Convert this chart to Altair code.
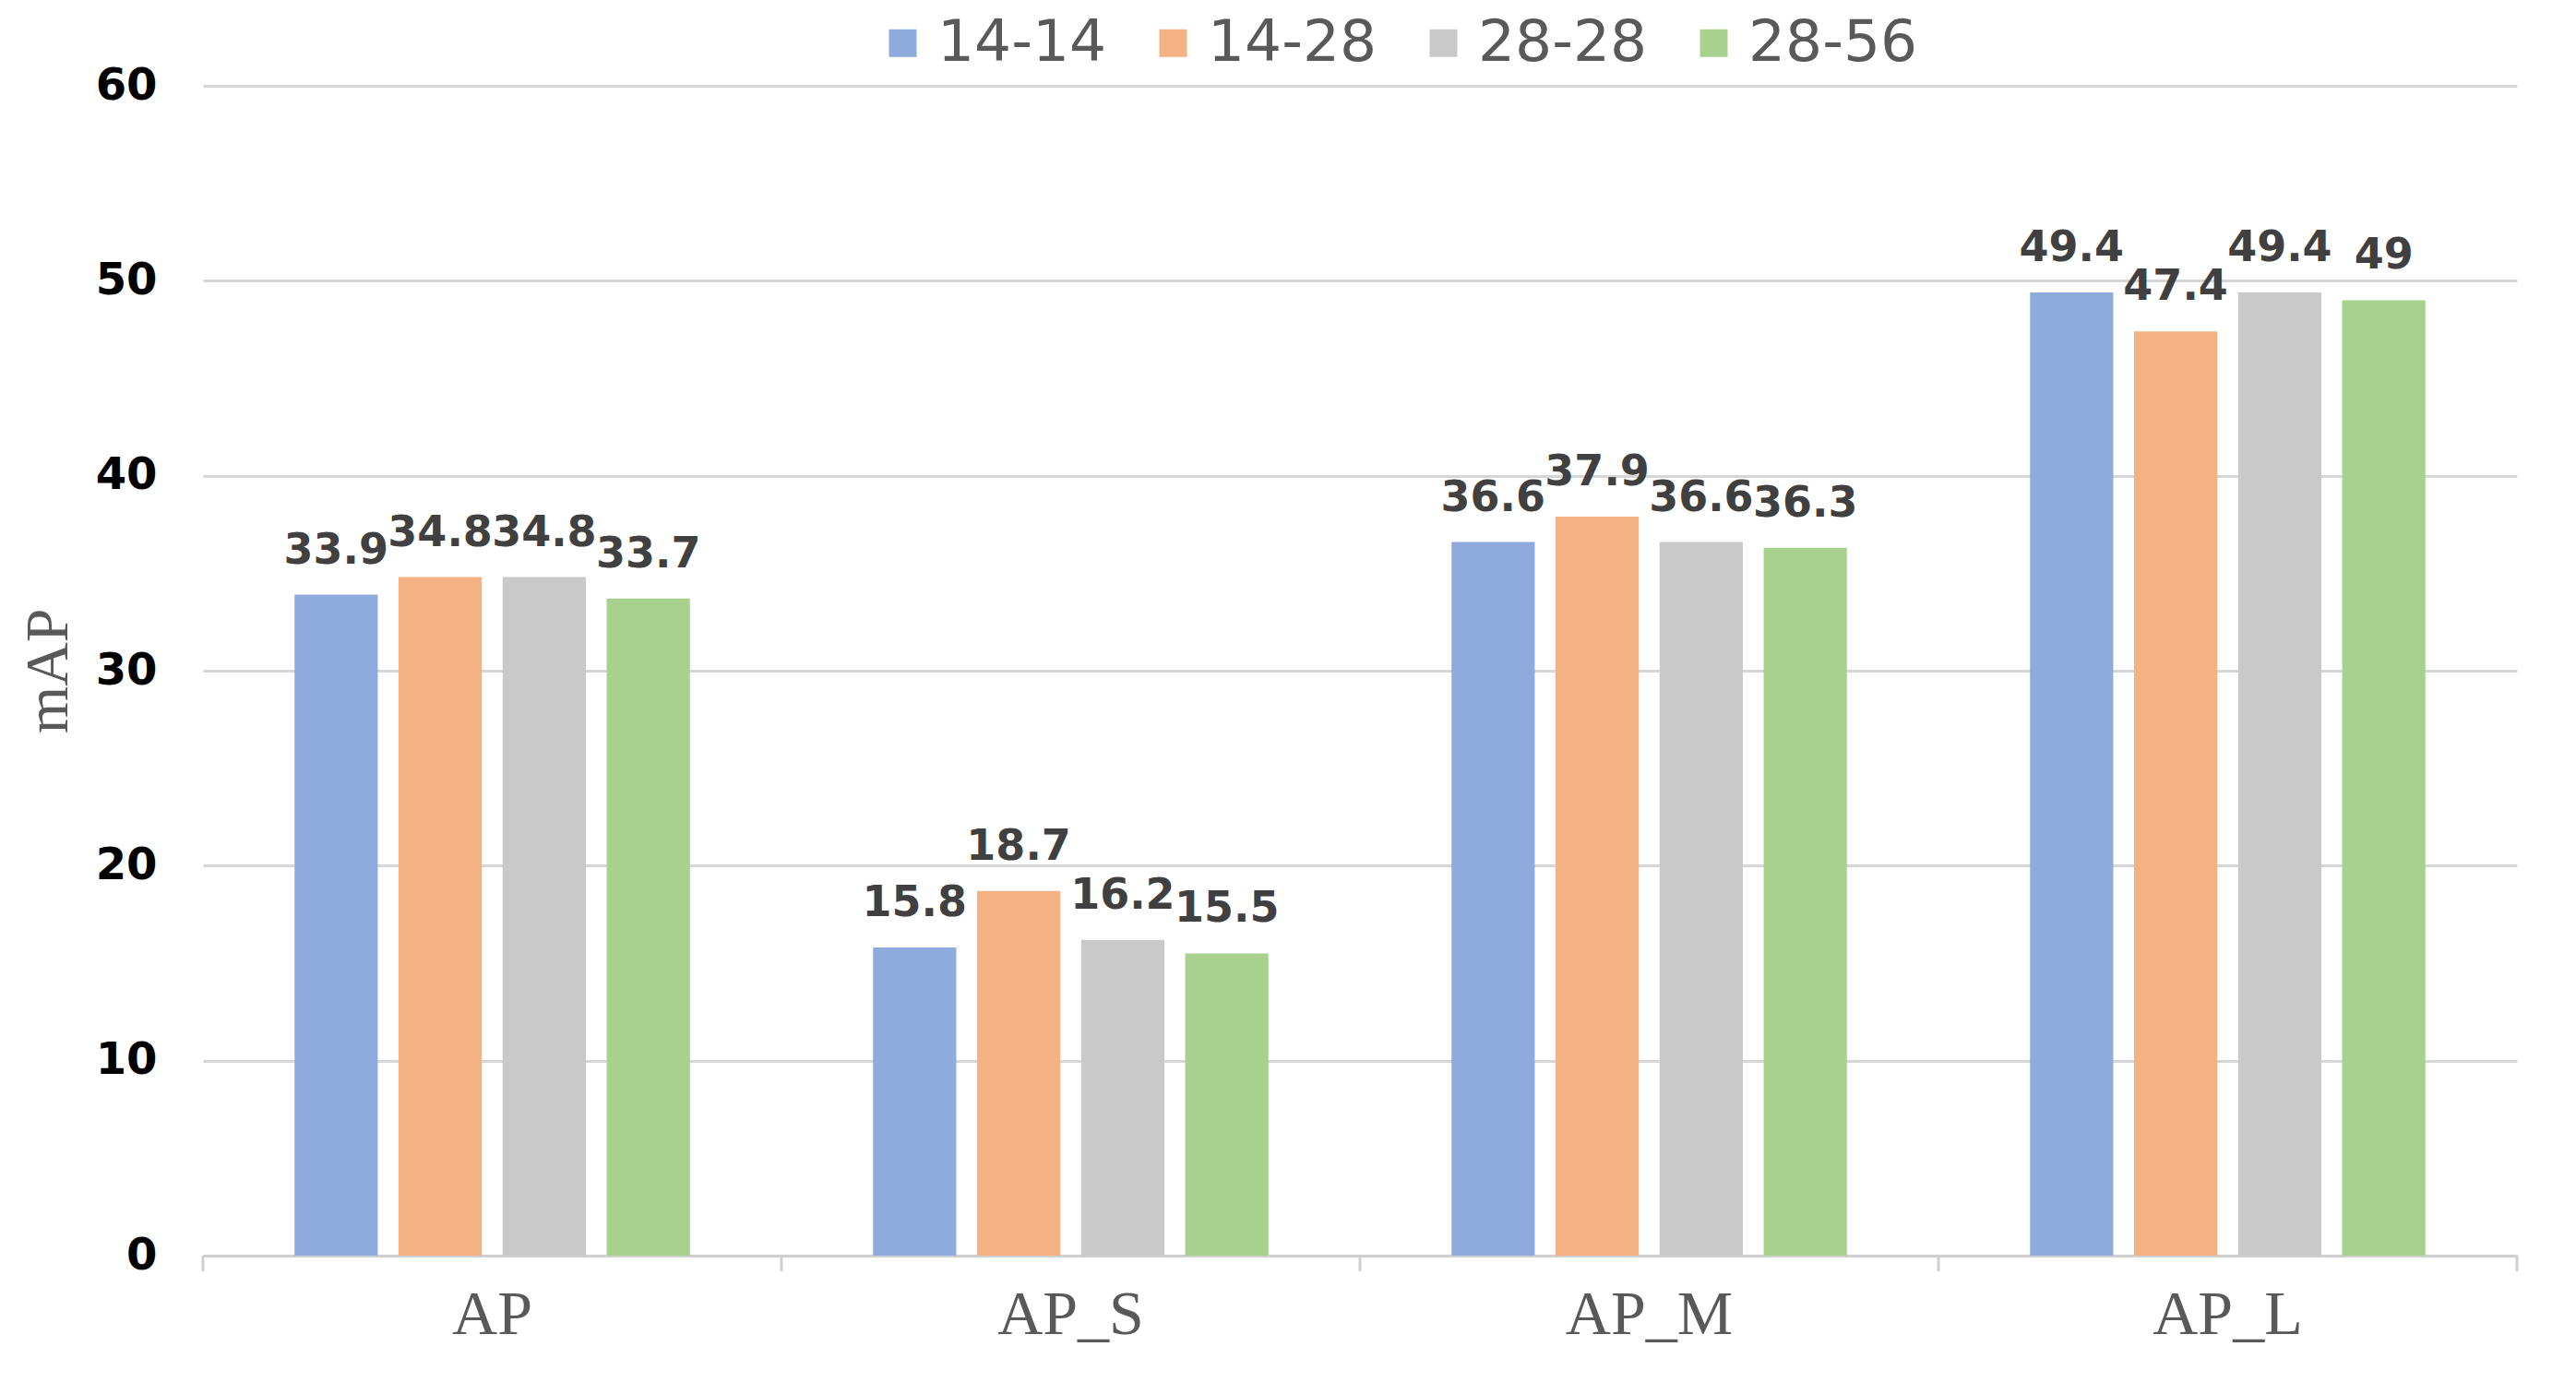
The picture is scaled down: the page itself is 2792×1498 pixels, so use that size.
import altair as alt
import pandas as pd

categories = ["AP", "AP_S", "AP_M", "AP_L"]
series = ["14-14", "14-28", "28-28", "28-56"]
values = {
    "14-14": [33.9, 15.8, 36.6, 49.4],
    "14-28": [34.8, 18.7, 37.9, 47.4],
    "28-28": [34.8, 16.2, 36.6, 49.4],
    "28-56": [33.7, 15.5, 36.3, 49],
}
colors = ["#8FAADC", "#F4B183", "#C9C9C9", "#A9D18E"]
y_ticks = [0, 10, 20, 30, 40, 50, 60]

rows = []
for s in series:
    for c, v in zip(categories, values[s]):
        rows.append({"cat": c, "series": s, "value": v})
df = pd.DataFrame(rows)
ticks_df = pd.DataFrame({"cat": categories})
end_df = pd.DataFrame({"cat": categories[-1:]})

W, H = 2508, 1268

x_enc = alt.X(
    "cat:N",
    sort=categories,
    scale=alt.Scale(paddingInner=0, paddingOuter=0),
    axis=alt.Axis(
        title=None,
        labelFont="Liberation Serif",
        labelFontSize=68,
        labelColor="#595959",
        labelAngle=0,
        labelPadding=30,
        labelLimit=0,
        ticks=False,
        domainColor="#CFCFCF",
        domainWidth=3,
        grid=False,
    ),
)
xoff = alt.XOffset(
    "series:N",
    sort=series,
    scale=alt.Scale(paddingInner=0.2, paddingOuter=0.88),
)
y_enc = alt.Y(
    "value:Q",
    scale=alt.Scale(domain=[0, 60], nice=False),
    axis=alt.Axis(
        values=y_ticks,
        title="mAP",
        titleFont="Liberation Serif",
        titleFontSize=66,
        titleFontWeight="normal",
        titleColor="#595959",
        titleAngle=270,
        titleBaseline="alphabetic",
        titleX=-148,
        titleY=H / 2,
        labelFont="DejaVu Sans",
        labelFontSize=48,
        labelFontWeight="bold",
        labelColor="#000000",
        labelPadding=50,
        ticks=False,
        domain=False,
        gridColor="#D6D6D6",
        gridWidth=3,
    ),
)

bars = alt.Chart(df).mark_bar().encode(
    x=x_enc,
    xOffset=xoff,
    y=y_enc,
    color=alt.Color(
        "series:N",
        sort=series,
        scale=alt.Scale(domain=series, range=colors),
        legend=alt.Legend(
            title=None,
            orient="none",
            direction="horizontal",
            legendX=727,
            legendY=-78,
            symbolType="square",
            symbolSize=900,
            symbolStrokeWidth=0,
            labelFont="DejaVu Sans",
            labelFontSize=63,
            labelColor="#595959",
            labelOffset=6,
            labelLimit=0,
            columnPadding=40,
        ),
    ),
)

labels = alt.Chart(df).mark_text(
    baseline="alphabetic",
    dy=-34,
    font="DejaVu Sans",
    fontSize=46,
    fontWeight="bold",
    color="#404040",
).encode(
    x=alt.X("cat:N", sort=categories),
    xOffset=alt.XOffset("series:N", sort=series),
    y=alt.Y("value:Q"),
    text=alt.Text("value:Q"),
)

tick_marks = alt.Chart(ticks_df).mark_rule(color="#CFCFCF", strokeWidth=3).encode(
    x=alt.X("cat:N", sort=categories, bandPosition=0),
    y=alt.value(H),
    y2=alt.value(H + 17),
)
end_tick = alt.Chart(end_df).mark_rule(color="#CFCFCF", strokeWidth=3).encode(
    x=alt.X("cat:N", sort=categories, bandPosition=1),
    y=alt.value(H),
    y2=alt.value(H + 17),
)

chart = (
    alt.layer(bars, labels, tick_marks, end_tick)
    .properties(
        width=W,
        height=H,
        background="white",
        autosize=alt.AutoSizeParams(type="none"),
        padding={"left": 212, "top": 85, "right": 50, "bottom": 120},
    )
    .configure_view(stroke=None, strokeWidth=0)
)

chart.save("out.html", embed_options={"renderer": "svg", "actions": False})
